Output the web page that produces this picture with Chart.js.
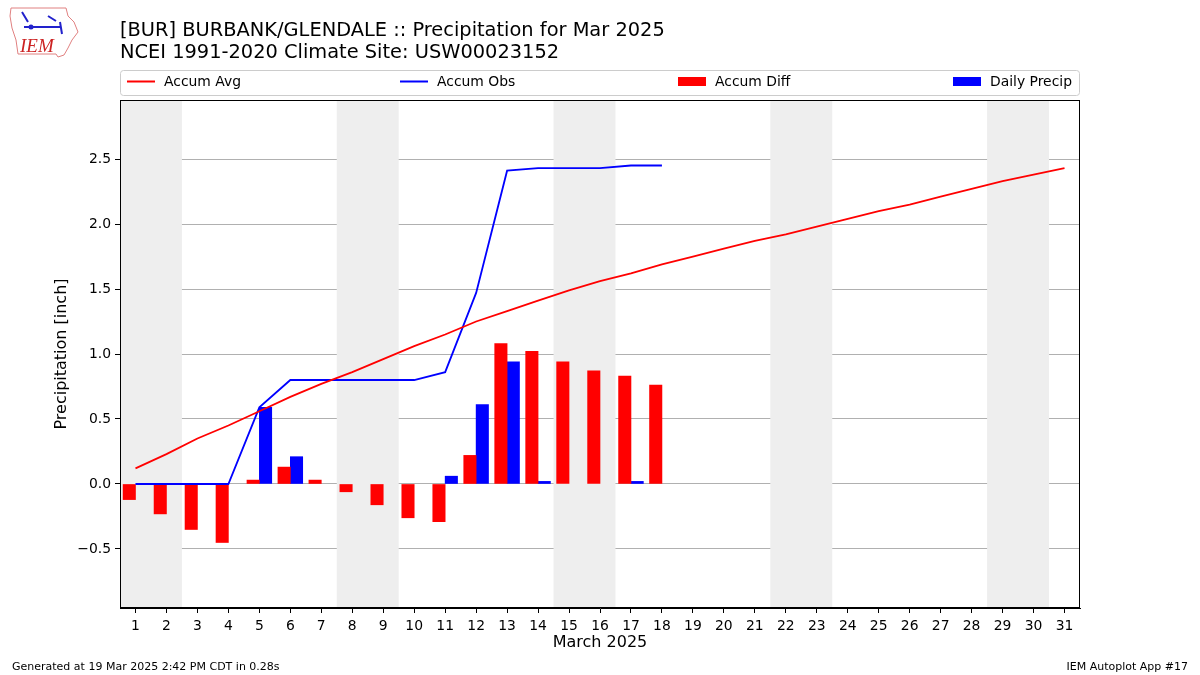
<!DOCTYPE html>
<html><head><meta charset="utf-8">
<script src="https://cdn.jsdelivr.net/npm/chart.js@4.4.1/dist/chart.umd.min.js"></script>
<style>html,body{margin:0;padding:0;background:#fff}#wrap{width:1200px;height:675px;position:relative}</style>
</head><body><div id="wrap"><canvas id="c" width="1200" height="675"></canvas></div>
<script>
const days = Array.from({length:31},(_,i)=>i+1);
const accumAvg = [0.12,0.23,0.35,0.45,0.56,0.67,0.77,0.86,0.96,1.06,1.15,1.25,1.33,1.41,1.49,1.56,1.62,1.69,1.75,1.81,1.87,1.92,1.98,2.04,2.10,2.15,2.21,2.27,2.33,2.38,2.43];
const accumObs = [0,0,0,0,0.59,0.80,0.80,0.80,0.80,0.80,0.86,1.47,2.41,2.43,2.43,2.43,2.45,2.45];
const accumDiff = [-0.12,-0.23,-0.35,-0.45,0.03,0.13,0.03,-0.06,-0.16,-0.26,-0.29,0.22,1.08,1.02,0.94,0.87,0.83,0.76];
const dailyPrecip = [0,0,0,0,0.59,0.21,0,0,0,0,0.06,0.61,0.94,0.02,0,0,0.02,0];
const weekendStarts = [1,8,15,22,29];
const yTicks = [-0.5,0,0.5,1.0,1.5,2.0,2.5];
const FONT = "'DejaVu Sans', sans-serif";
const TICKSIZE = 13.9;

const extras = {
  id:'extras',
  beforeDatasetsDraw(chart){
    const {ctx, chartArea:a, scales:{x}} = chart;
    ctx.save();
    ctx.fillStyle = '#eeeeee';
    weekendStarts.forEach(d=>{
      const x0 = Math.max(a.left, x.getPixelForValue(d-0.5));
      const x1 = Math.min(a.right, x.getPixelForValue(d+1.5));
      ctx.fillRect(x0, a.top, x1-x0, a.bottom-a.top);
    });
    ctx.restore();
  },
  afterDatasetsDraw(chart){
    const {ctx, chartArea:a} = chart;
    ctx.save();
    ctx.strokeStyle = '#000'; ctx.lineWidth = 1;
    ctx.strokeRect(a.left+0.5, a.top+0.5, a.right-a.left-1, a.bottom-a.top-1);
    ctx.restore();
  },
  afterDraw(chart){
    const ctx = chart.ctx;
    const a = chart.chartArea;
    ctx.save();
    ctx.fillStyle = '#000';
    ctx.font = "19.4px " + FONT;
    ctx.textBaseline = 'alphabetic';
    ctx.textAlign = 'left';
    ctx.fillText('[BUR] BURBANK/GLENDALE :: Precipitation for Mar 2025', 120, 36);
    ctx.fillText('NCEI 1991-2020 Climate Site: USW00023152', 120, 58);
    // axis titles
    ctx.font = "16px " + FONT;
    ctx.textAlign = 'center';
    ctx.textBaseline = 'middle';
    ctx.fillText('March 2025', (a.left+a.right)/2, 643);
    ctx.save();
    ctx.translate(62, (a.top+a.bottom)/2);
    ctx.rotate(-Math.PI/2);
    ctx.fillText('Precipitation [inch]', 0, 0);
    ctx.restore();
    // legend box
    ctx.strokeStyle = '#cccccc'; ctx.lineWidth = 1;
    ctx.fillStyle = 'rgba(255,255,255,0.8)';
    ctx.beginPath();
    ctx.roundRect(120.5, 70.5, 959, 25, 3);
    ctx.fill(); ctx.stroke();
    ctx.font = TICKSIZE + "px " + FONT;
    ctx.textBaseline = 'middle';
    ctx.textAlign = 'left';
    const items = [
      {t:'Accum Avg', c:'#ff0000', line:true, x:127},
      {t:'Accum Obs', c:'#0000ff', line:true, x:400},
      {t:'Accum Diff', c:'#ff0000', line:false, x:678},
      {t:'Daily Precip', c:'#0000ff', line:false, x:953}
    ];
    items.forEach(it=>{
      if(it.line){
        ctx.strokeStyle = it.c; ctx.lineWidth = 2;
        ctx.beginPath(); ctx.moveTo(it.x, 81.5); ctx.lineTo(it.x+28, 81.5); ctx.stroke();
      } else {
        ctx.fillStyle = it.c; ctx.fillRect(it.x, 77, 28, 9);
      }
      ctx.fillStyle = '#000';
      ctx.fillText(it.t, it.x+37, 82);
    });
    // footer
    ctx.font = "11px " + FONT;
    ctx.textBaseline = 'alphabetic';
    ctx.fillText('Generated at 19 Mar 2025 2:42 PM CDT in 0.28s', 12, 670);
    ctx.textAlign = 'right';
    ctx.fillText('IEM Autoplot App #17', 1188, 670);
    // logo
    ctx.strokeStyle = '#e08080'; ctx.lineWidth = 1;
    ctx.beginPath();
    ctx.moveTo(11,8); ctx.lineTo(66,8); ctx.lineTo(68,16); ctx.lineTo(74,22); ctx.lineTo(78,32);
    ctx.lineTo(72,40); ctx.lineTo(68,48); ctx.lineTo(64,55); ctx.lineTo(58,57); ctx.lineTo(56,54);
    ctx.lineTo(18,54); ctx.lineTo(16,40); ctx.lineTo(12,28); ctx.lineTo(10,16); ctx.closePath();
    ctx.stroke();
    ctx.strokeStyle = '#2222cc'; ctx.lineWidth = 2;
    ctx.beginPath(); ctx.moveTo(24,27); ctx.lineTo(60,27); ctx.stroke();
    ctx.beginPath(); ctx.moveTo(22,12); ctx.lineTo(28,22); ctx.moveTo(48,16); ctx.lineTo(56,21); ctx.moveTo(60,22); ctx.lineTo(62,34); ctx.stroke();
    ctx.fillStyle = '#2222cc';
    ctx.beginPath(); ctx.arc(31,27,2.5,0,Math.PI*2); ctx.fill();
    ctx.fillStyle = '#cc2222';
    ctx.font = "italic 19px 'Liberation Serif', serif";
    ctx.textAlign = 'left';
    ctx.fillText('IEM', 20, 52);
    ctx.restore();
  }
};

const fixedTicks = vals => (s => { s.ticks = vals.map(v=>({value:v})); });

new Chart(document.getElementById('c'), {
  data: {
    datasets: [
      {type:'line', label:'Accum Avg', data: days.map((d,i)=>({x:d,y:accumAvg[i]})), borderColor:'#ff0000', borderWidth:1.8, pointRadius:0, tension:0, order:0},
      {type:'line', label:'Accum Obs', data: accumObs.map((v,i)=>({x:days[i],y:v})), borderColor:'#0000ff', borderWidth:1.8, pointRadius:0, tension:0, order:0},
      {type:'bar', label:'Accum Diff', data: accumDiff.map((v,i)=>({x:days[i]-0.2,y:v===0?null:v})), backgroundColor:'#ff0000', borderWidth:0, grouped:false, barPercentage:1, categoryPercentage:1, order:1},
      {type:'bar', label:'Daily Precip', data: dailyPrecip.map((v,i)=>({x:days[i]+0.2,y:v===0?null:v})), backgroundColor:'#0000ff', borderWidth:0, grouped:false, barPercentage:1, categoryPercentage:1, order:1}
    ]
  },
  options: {
    responsive:false, animation:false,
    layout:{padding:{top:100, right:120, left:0, bottom:0}},
    plugins:{legend:{display:false}, title:{display:false}, tooltip:{enabled:false}},
    scales:{
      x:{type:'linear', min:0.5, max:31.5, offset:false,
        afterBuildTicks: fixedTicks(days),
        afterFit: s => { s.height = 67; },
        grid:{offset:false, drawOnChartArea:false, drawTicks:true, tickLength:5, tickColor:'#000'},
        border:{display:true, color:'#000'},
        ticks:{color:'#000', font:{family:FONT, size:TICKSIZE}, padding:5, maxRotation:0, autoSkip:false, callback:v=>String(v)},
        title:{display:false}
      },
      y:{type:'linear', min:-0.954, max:2.954,
        afterBuildTicks: fixedTicks(yTicks),
        afterFit: s => { s.width = 120; },
        grid:{color:'#b0b0b0', lineWidth:1, drawTicks:true, tickLength:5, tickColor:'#000'},
        border:{display:true, color:'#000'},
        ticks:{color:'#000', font:{family:FONT, size:TICKSIZE}, padding:4, callback:v=> (v<0?'\u2212':'') + Math.abs(v).toFixed(1)},
        title:{display:false}
      }
    }
  },
  plugins:[extras]
});
</script></body></html>
